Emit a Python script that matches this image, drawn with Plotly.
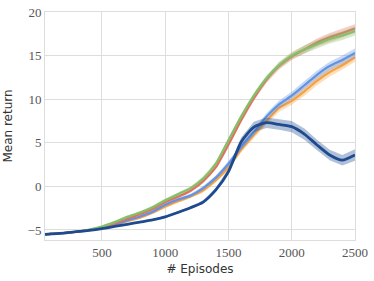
import plotly.graph_objects as go

episodes = [50, 100, 200, 300, 400, 500, 600, 700, 800, 900, 1000, 1100, 1200, 1300,
            1400, 1500, 1600, 1700, 1800, 1900, 2000, 2100, 2200, 2300, 2400, 2500]

orange_mean = [-5.5, -5.45, -5.35, -5.2, -5.02, -4.8, -4.45, -4.0, -3.6, -3.0, -2.3, -1.7, -1.15,
               -0.45, 0.7, 2.2, 4.2, 5.9, 7.5, 9.0, 9.8, 10.9, 12.1, 13.1, 13.9, 14.8]
orange_err = [0.08, 0.08, 0.08, 0.1, 0.1, 0.12, 0.15, 0.15, 0.15, 0.2, 0.2, 0.2, 0.2,
              0.25, 0.25, 0.3, 0.3, 0.35, 0.4, 0.45, 0.45, 0.5, 0.5, 0.5, 0.5, 0.5]

lightblue_mean = [-5.5, -5.45, -5.35, -5.2, -5.0, -4.75, -4.35, -3.9, -3.45, -2.9, -2.1, -1.5, -1.05,
                  -0.2, 1.0, 2.6, 4.5, 6.2, 8.0, 9.4, 10.4, 11.6, 12.8, 13.8, 14.5, 15.3]
lightblue_err = [0.08, 0.08, 0.08, 0.1, 0.1, 0.12, 0.15, 0.15, 0.15, 0.2, 0.2, 0.2, 0.2,
                 0.25, 0.25, 0.3, 0.3, 0.35, 0.4, 0.45, 0.45, 0.5, 0.5, 0.5, 0.5, 0.5]

red_mean = [-5.5, -5.45, -5.35, -5.2, -5.0, -4.7, -4.25, -3.7, -3.2, -2.6, -1.8, -1.2, -0.5,
            0.6, 2.2, 4.8, 7.6, 10.1, 12.2, 13.8, 14.9, 15.7, 16.5, 17.1, 17.6, 18.1]
red_err = [0.08, 0.08, 0.08, 0.1, 0.1, 0.12, 0.15, 0.15, 0.15, 0.2, 0.2, 0.2, 0.2,
           0.25, 0.25, 0.3, 0.3, 0.3, 0.35, 0.4, 0.4, 0.45, 0.45, 0.5, 0.5, 0.5]

green_mean = [-5.5, -5.45, -5.35, -5.2, -4.95, -4.6, -4.1, -3.5, -3.0, -2.4, -1.6, -0.9, -0.2,
              0.9, 2.6, 5.3, 8.0, 10.4, 12.4, 13.9, 15.0, 15.7, 16.3, 16.9, 17.3, 17.8]
green_err = [0.08, 0.08, 0.08, 0.1, 0.1, 0.12, 0.15, 0.15, 0.15, 0.2, 0.2, 0.2, 0.2,
             0.25, 0.25, 0.3, 0.3, 0.3, 0.35, 0.4, 0.4, 0.45, 0.45, 0.5, 0.5, 0.5]

navy_mean = [-5.5, -5.45, -5.35, -5.2, -5.05, -4.85, -4.6, -4.35, -4.1, -3.85, -3.5, -3.0, -2.45,
             -1.8, -0.4, 1.7, 5.1, 6.8, 7.3, 7.1, 6.85, 6.0, 4.75, 3.6, 3.0, 3.6]
navy_err = [0.08, 0.08, 0.08, 0.08, 0.08, 0.1, 0.1, 0.1, 0.1, 0.1, 0.12, 0.12, 0.15,
            0.2, 0.25, 0.35, 0.5, 0.6, 0.6, 0.6, 0.65, 0.65, 0.6, 0.6, 0.6, 0.65]

x_ticks = [500, 1000, 1500, 2000, 2500]
y_ticks = [-5, 0, 5, 10, 15, 20]

series = [
    (orange_mean, orange_err, "#f8a03c", "rgba(248,160,60,0.35)", 2.2),
    (lightblue_mean, lightblue_err, "#5f93e3", "rgba(95,147,227,0.35)", 2.2),
    (red_mean, red_err, "#df7160", "rgba(223,113,96,0.35)", 2.2),
    (green_mean, green_err, "#86bf6a", "rgba(134,191,106,0.35)", 2.2),
    (navy_mean, navy_err, "#1e4a8f", "rgba(30,74,143,0.35)", 2.8),
]

fig = go.Figure()
for mean, err, color, fill, width in series:
    upper = [m + e for m, e in zip(mean, err)]
    lower = [m - e for m, e in zip(mean, err)]
    fig.add_trace(go.Scatter(x=episodes + episodes[::-1], y=upper + lower[::-1],
                             fill="toself", fillcolor=fill, line=dict(width=0),
                             mode="lines", hoverinfo="skip", showlegend=False))
    fig.add_trace(go.Scatter(x=episodes, y=mean, mode="lines",
                             line=dict(color=color, width=width, shape="spline", smoothing=0.6),
                             showlegend=False))

tick_font = dict(family="Times New Roman, Liberation Serif, serif", size=13, color="#555555")
title_font = dict(family="DejaVu Sans", size=12, color="#333333")

fig.update_layout(
    width=374, height=281,
    margin=dict(l=45, r=19, t=12, b=41),
    plot_bgcolor="white", paper_bgcolor="white",
    font=tick_font,
)
fig.update_xaxes(range=[50, 2500], tickvals=x_ticks, showgrid=True, gridcolor="#dddddd",
                 gridwidth=1, zeroline=False, showline=True, linecolor="#dddddd", mirror=True,
                 ticks="", tickfont=tick_font, automargin=False,
                 title=dict(text="# Episodes", standoff=6, font=title_font))
fig.update_yaxes(range=[-6.15, 20], tickvals=y_ticks, showgrid=True, gridcolor="#dddddd",
                 gridwidth=1, zeroline=False, showline=True, linecolor="#dddddd", mirror=True,
                 ticks="", tickfont=tick_font, automargin=False,
                 title=dict(text="Mean return", standoff=12, font=title_font))

fig.write_html("out.html", config={"displayModeBar": False},
               post_script="document.body.style.margin='0';document.body.style.padding='0';")
